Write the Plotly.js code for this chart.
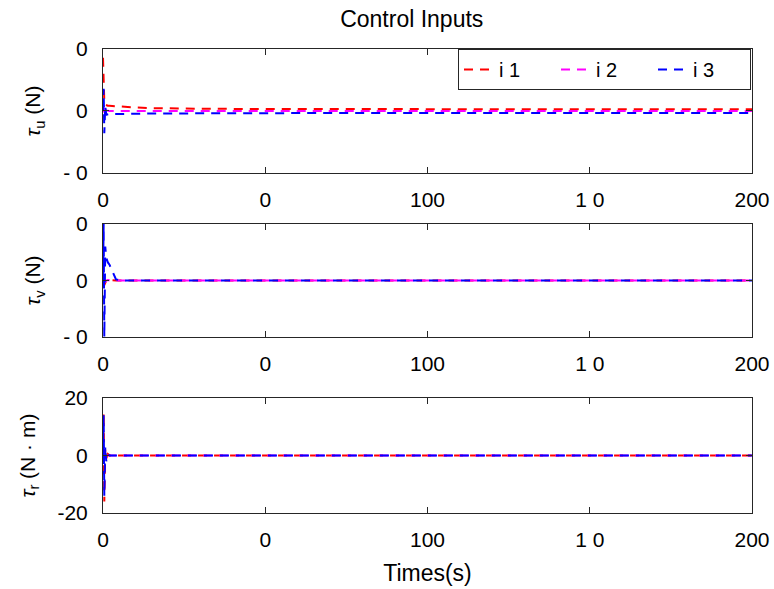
<!DOCTYPE html>
<html><head><meta charset="utf-8">
<script src="https://cdn.plot.ly/plotly-3.0.1.min.js"></script>
<style>body{margin:0;background:#fff}#c{width:774px;height:589px}</style>
</head><body><div id="c"></div>
<script>
// time samples (s)
const t = [0, 0.2, 0.4, 0.7, 1, 1.5, 2, 3, 4, 5, 7, 10, 15, 20, 30, 40, 50, 60, 75, 100, 125, 150, 175, 200];
// tau_u (N)
const tauU1 = [43, 25, 8, 5, 4.5, 4.2, 4.2, 4, 3.8, 3.5, 3.2, 2.8, 2.3, 2.0, 1.8, 1.7, 1.6, 1.6, 1.5, 1.5, 1.5, 1.5, 1.5, 1.5];
const tauU2 = [0, 3, -3, 1, 0.5, 0.2, 0, 0, 0, 0, 0, 0, 0, 0, 0, 0, 0, 0, 0, 0, 0, 0, 0, 0];
const tauU3 = [0, 18, -18, 4, -3, -2.5, -2.5, -2.5, -2.4, -2.4, -2.3, -2.2, -2.0, -1.9, -1.8, -1.7, -1.7, -1.7, -1.7, -1.7, -1.7, -1.7, -1.7, -1.7];
// tau_v (N)
const tauV1 = [0, -3, -4, -2, 0, 0.5, 0.3, 0, 0, 0, 0, 0, 0, 0, 0.2, 0.4, 0.5, 0.4, 0.2, 0, 0, 0, 0, 0];
const tauV2 = [0, -2, -2, -1, 0, 0.4, 0.2, 0, 0, 0, 0, 0, 0, 0, 0.2, 0.4, 0.5, 0.4, 0.2, 0, 0, 0, 0, 0];
const tauV3 = [0, 50, -50, 30, 20, 16, 14, 8, 1, 0.5, 0, 0, 0, 0, 0.2, 0.4, 0.5, 0.4, 0.2, 0, 0, 0, 0, 0];
// tau_r (N·m)
const tauR1 = [0, 15, -16, 2, -1, 0.5, 0, 0, 0, 0, 0, 0, 0, 0, 0, 0, 0, 0, 0, 0, 0, 0, 0, 0];
const tauR2 = [0, 1, -1, 0.5, 0, 0, 0, 0, 0, 0, 0, 0, 0, 0, 0, 0, 0, 0, 0, 0, 0, 0, 0, 0];
const tauR3 = [0, 14, -14, 3, -2, 0.5, 0, 0, 0, 0, 0, 0, 0, 0, 0, 0, 0, 0, 0, 0, 0, 0, 0, 0];
const names = ['i 1', 'i 2', 'i 3'];
const colors = ['#ff0000', '#ff00ff', '#0000ff'];
const xTickVals = [0, 50, 100, 150, 200];
const xTickText = ['0', '0', '100', '1 0', '200'];
const yTickValsUV = [-50, 0, 50];
const yTickTextUV = ['- 0', '0', '0'];
const yTickValsR = [-20, 0, 20];
const yTickTextR = ['-20', '0', '20'];

const panels = [[tauU1, tauU2, tauU3], [tauV1, tauV2, tauV3], [tauR1, tauR2, tauR3]];
const traces = [];
panels.forEach((p, pi) => {
  p.forEach((ys, si) => {
    traces.push({
      x: t, y: ys, type: 'scatter', mode: 'lines', name: names[si],
      showlegend: pi === 0,
      line: {color: colors[si], width: 2, dash: '9px,7px'},
      xaxis: pi === 0 ? 'x' : 'x' + (pi + 1),
      yaxis: pi === 0 ? 'y' : 'y' + (pi + 1)
    });
  });
});
const F = 'Liberation Sans, Arial, sans-serif';
function xa(anchor) {
  return {anchor: anchor, range: [0, 200], tickvals: xTickVals, ticktext: xTickText,
    ticks: 'inside', ticklen: 6, mirror: 'ticks', showline: true, linecolor: '#262626', linewidth: 1,
    showgrid: false, zeroline: false, tickfont: {family: F, size: 21, color: '#000'}, tickcolor: '#262626',
    ticklabelstandoff: 8};
}
function ya(domain, range, vals, text, title) {
  return {domain: domain, range: range, tickvals: vals, ticktext: text,
    ticks: 'inside', ticklen: 6, mirror: 'ticks', showline: true, linecolor: '#262626', linewidth: 1,
    showgrid: false, zeroline: false, tickfont: {family: F, size: 21, color: '#000'}, tickcolor: '#262626',
    ticklabelstandoff: 10,
    title: {text: title, font: {family: F, size: 21, color: '#000'}, standoff: 16}};
}
const x3 = xa('y3');
x3.title = {text: 'Times(s)', font: {family: F, size: 23, color: '#000'}, standoff: 14};
const layout = {
  width: 774, height: 589,
  margin: {l: 103, r: 22, t: 49, b: 76, autoexpand: false},
  paper_bgcolor: '#fff', plot_bgcolor: '#fff',
  title: {text: 'Control Inputs', font: {family: F, size: 23, color: '#000'}, x: 0.532, xanchor: 'center', y: 0.968, yanchor: 'middle'},
  xaxis: xa('y'), xaxis2: xa('y2'), xaxis3: x3,
  yaxis: ya([0.7328, 1], [-50, 50], yTickValsUV, yTickTextUV, '<i>τ</i><sub>u</sub> (N)'),
  yaxis2: ya([0.3793, 0.6228], [-50, 50], yTickValsUV, yTickTextUV, '<i>τ</i><sub>v</sub> (N)'),
  yaxis3: ya([0, 0.2478], [-20, 20], yTickValsR, yTickTextR, '<i>τ</i><sub>r</sub> (N · m)'),
  legend: {orientation: 'h', x: 0.547, xanchor: 'left', y: 1, yanchor: 'top',
    bordercolor: '#262626', borderwidth: 1, bgcolor: '#fff',
    font: {family: F, size: 20, color: '#000'}, entrywidth: 52, entrywidthmode: 'pixels', tracegroupgap: 0}
};
Plotly.newPlot('c', traces, layout, {staticPlot: true});
</script></body></html>
